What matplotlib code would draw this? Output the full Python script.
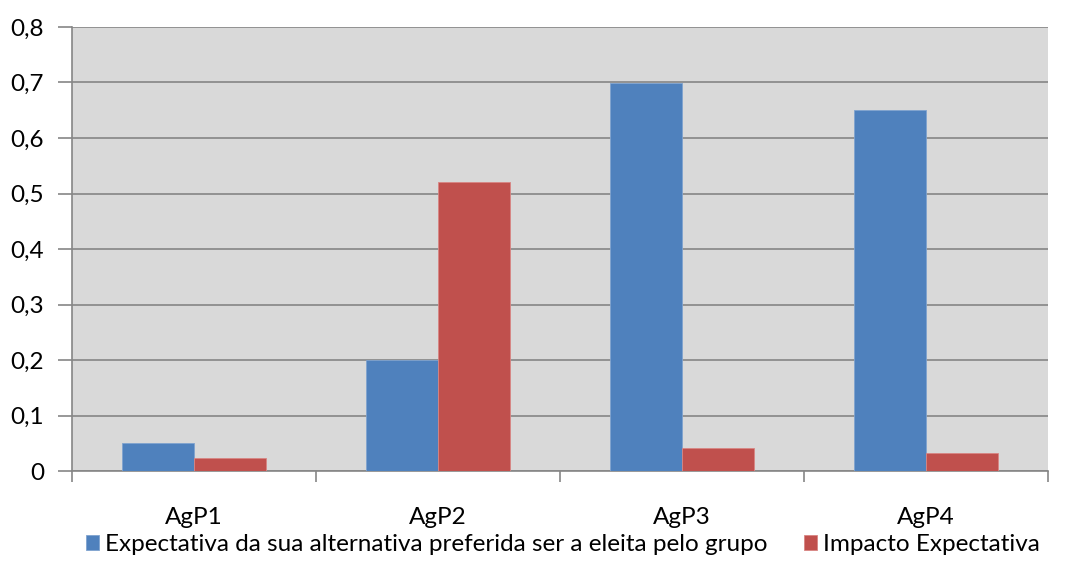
import matplotlib
matplotlib.use('Agg')
import matplotlib.pyplot as plt
import numpy as np
from matplotlib.ticker import FuncFormatter, FixedLocator, NullFormatter

# Chart data
categories = ["AgP1", "AgP2", "AgP3", "AgP4"]
expectativa = [0.05, 0.20, 0.70, 0.65]
impacto = [0.023, 0.52, 0.041, 0.032]
series_names = ["Expectativa da sua alternativa preferida ser a eleita pelo grupo",
                "Impacto Expectativa"]

plt.rcParams['font.family'] = ['Lato', 'DejaVu Sans']

fig = plt.figure(figsize=(10.66, 5.61), dpi=100)
ax = fig.add_axes([72 / 1066, 90 / 561, 976 / 1066, 444 / 561])
ax.set_facecolor('#d9d9d9')

x = np.arange(len(categories))
w = 0.295
ax.bar(x - w / 2, expectativa, w, color='#4f81bd', edgecolor='#7fa3cf', linewidth=0.6,
       label=series_names[0], zorder=3)
ax.bar(x + w / 2, impacto, w, color='#c0504d', edgecolor='#d98583', linewidth=0.6,
       label=series_names[1], zorder=3)

ax.set_xlim(-0.5, len(categories) - 0.5)
ax.set_ylim(0, 0.8)
ax.set_yticks(np.arange(0, 0.81, 0.1))
ax.yaxis.set_major_formatter(FuncFormatter(
    lambda v, p: "0" if abs(v) < 1e-9 else f"{v:.1f}".replace(".", ",")))
ax.grid(axis='y', color='#868686', linewidth=1.2, zorder=1)

# category labels centered, tick marks at boundaries
ax.set_xticks(x)
ax.set_xticklabels(categories)
ax.tick_params(axis='x', length=0, pad=26, labelsize=17.5)
ax.xaxis.set_minor_locator(FixedLocator(np.arange(-0.5, len(categories), 1.0)))
ax.xaxis.set_minor_formatter(NullFormatter())
ax.tick_params(axis='x', which='minor', length=8, width=1.2, color='#868686')
ax.tick_params(axis='y', length=10, width=1.2, color='#868686', labelsize=17.5, pad=10)

for s in ['top', 'right']:
    ax.spines[s].set_visible(False)
ax.spines['left'].set_color('#868686')
ax.spines['left'].set_linewidth(1.2)
ax.spines['bottom'].set_color('#868686')
ax.spines['bottom'].set_linewidth(1.2)

ax.legend(loc='upper center', bbox_to_anchor=(0.503, -0.12), ncol=2, frameon=False,
          fontsize=17.5, handlelength=0.55, handleheight=0.55, handletextpad=0.25,
          columnspacing=1.5, borderaxespad=0)

plt.savefig('out.png', dpi=100)
plt.close()
